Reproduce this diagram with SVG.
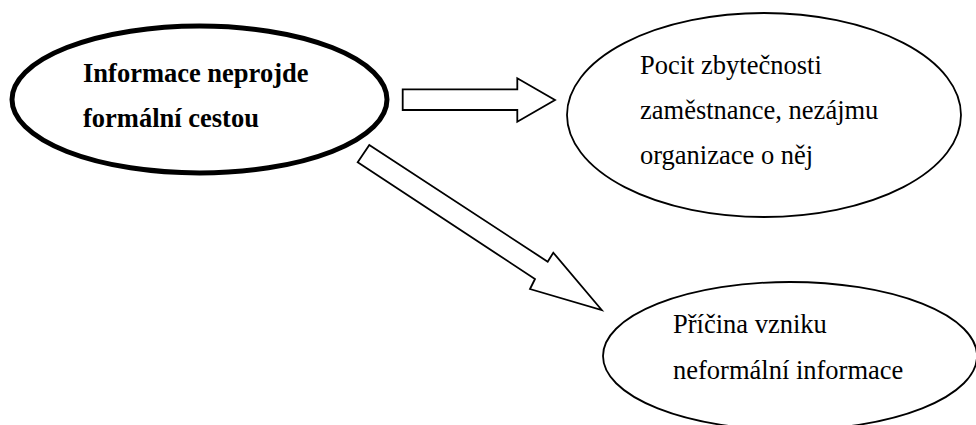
<svg xmlns="http://www.w3.org/2000/svg" width="976" height="425" viewBox="0 0 976 425">
<style>
.bg{fill:#fff}
.thin{fill:#fff;stroke:#000;stroke-width:1.8}
.thick{fill:#fff;stroke:#000;stroke-width:5}
.arrow{fill:#fff;stroke:#000;stroke-width:1.8;stroke-linejoin:miter}
.t{font-size:26.5px;fill:#000}
.b{font-weight:bold}
</style>
<rect class="bg" x="0" y="0" width="976" height="425"/>
<g id="node-main" font-family="'Liberation Serif', 'DejaVu Serif', serif">
<ellipse class="thick" cx="199.5" cy="99.5" rx="187.5" ry="73.5"/>
<text class="t b" x="83" y="82">Informace neprojde</text>
<text class="t b" x="83" y="127">formální cestou</text>
</g>
<g id="node-pocit" font-family="'Liberation Serif', 'DejaVu Serif', serif">
<ellipse class="thin" cx="764" cy="115" rx="197" ry="102"/>
<text class="t" x="640" y="74">Pocit zbytečnosti</text>
<text class="t" x="640" y="119">zaměstnance, nezájmu</text>
<text class="t" x="640" y="164">organizace o něj</text>
</g>
<g id="node-pricina" font-family="'Liberation Serif', 'DejaVu Serif', serif">
<ellipse class="thin" cx="790" cy="356" rx="187" ry="74"/>
<text class="t" x="673" y="333">Příčina vzniku</text>
<text class="t" x="673" y="379">neformální informace</text>
</g>
<g id="connectors">
<path class="arrow" d="M402.7,89.3 L517.3,89.3 L517.3,78.3 L555,100 L517.3,121.7 L517.3,110 L402.7,110 Z"/>
<path class="arrow" d="M369.3,145 L547.7,261.7 L553.3,252.7 L601.7,310 L530,289 L535,279 L357.7,162.3 Z"/>
</g>
</svg>
